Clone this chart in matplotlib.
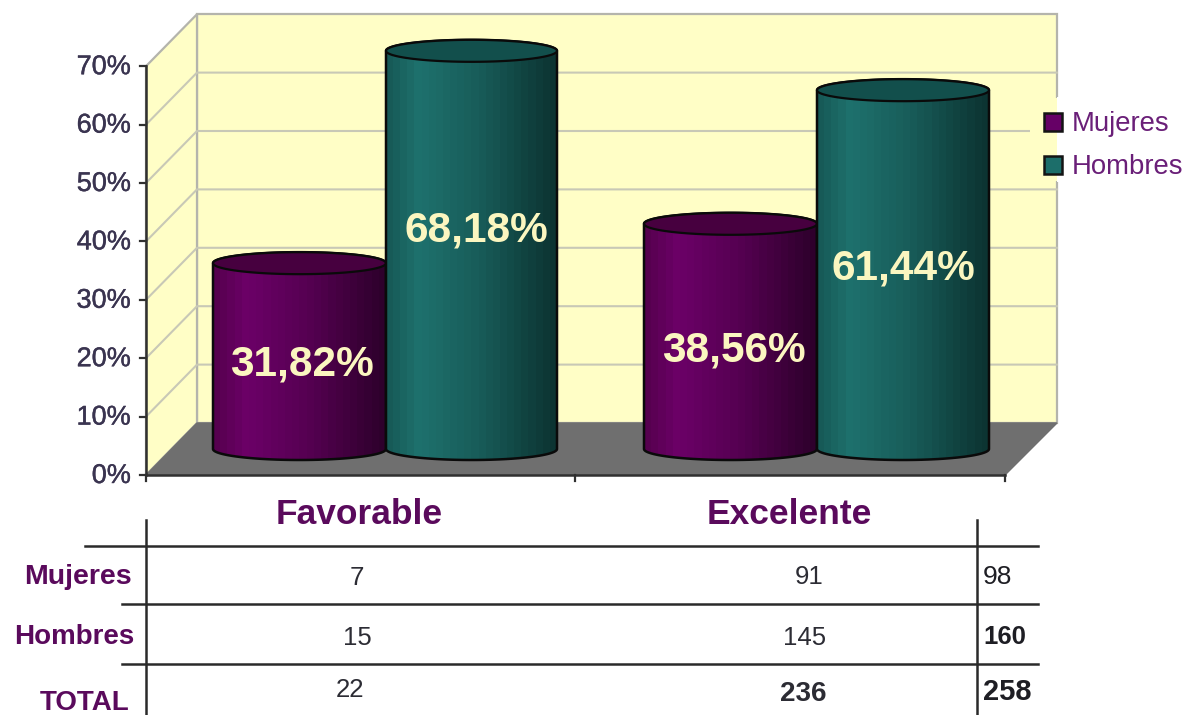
import numpy as np
import matplotlib
matplotlib.use("Agg")
import matplotlib.pyplot as plt
import matplotlib.patheffects as pe
from matplotlib.colors import LinearSegmentedColormap
from matplotlib.patches import Polygon, Rectangle

# data
categories = ["Favorable", "Excelente"]
series = ["Mujeres", "Hombres"]
mujeres_pct = [31.82, 38.56]
hombres_pct = [68.18, 61.44]
pct_labels = [["31,82%", "38,56%"], ["68,18%", "61,44%"]]
y_ticks = [0, 10, 20, 30, 40, 50, 60, 70]
table_rows = ["Mujeres", "Hombres", "TOTAL"]
favorable_counts = ["7", "15", "22"]
excelente_counts = ["91", "145", "236"]
row_totals = ["98", "160", "258"]

plt.rcParams["font.family"] = ["Liberation Sans", "DejaVu Sans"]

PURPLE = "#5a0a5c"
TEXT_DARK = "#3a3450"
CREAM = "#fffec6"
thicker = [pe.withStroke(linewidth=0.3, foreground=TEXT_DARK)]

fig = plt.figure(figsize=(11.88, 7.15), dpi=100)
ax = fig.add_axes([0, 0, 1, 1])
ax.set_xlim(0, 1188)
ax.set_ylim(715, 0)
ax.axis("off")

# value scale of the 3d box, front plane and back wall
PX_PER_PCT = 5.84
def front_y(p):
    return 475 - p * PX_PER_PCT
def back_y(p):
    return 423 - p * PX_PER_PCT
def mid_y(p):
    return 449 - p * PX_PER_PCT

# walls and floor
ax.add_patch(Polygon([(197, back_y(70)), (1057, back_y(70)), (1057, back_y(0)), (197, back_y(0))],
                     fc=CREAM, ec="#b4b4ac", lw=1.6, zorder=1))
ax.add_patch(Polygon([(146, front_y(70)), (197, back_y(70)), (197, back_y(0)), (146, front_y(0))],
                     fc=CREAM, ec="#b4b4ac", lw=1.6, zorder=1))
for p in y_ticks[1:-1]:
    ax.plot([146, 197, 1057], [front_y(p), back_y(p), back_y(p)], color="#c8c8b6", lw=1.5, zorder=2)
ax.add_patch(Polygon([(146, front_y(0)), (197, back_y(0)), (1057, back_y(0)), (1005, front_y(0))],
                     fc="#6f6f6f", ec="#6f6f6f", lw=1, zorder=3))

# axes lines and ticks
ax.plot([146, 146], [front_y(70), front_y(0)], color="#303030", lw=1.8, zorder=4)
ax.plot([146, 1005], [front_y(0), front_y(0)], color="#303030", lw=1.8, zorder=9)
for p in y_ticks:
    ax.plot([140, 146], [front_y(p), front_y(p)], color="#303030", lw=1.6, zorder=4)
    ax.text(131, front_y(p) + 1, "%d%%" % p, ha="right", va="center", fontsize=19.5,
            color=TEXT_DARK, zorder=5, path_effects=thicker)
for x in (146, 575, 1005):
    ax.plot([x, x], [front_y(0), front_y(0) + 6], color="#303030", lw=1.6, zorder=4)

# cylinders
cm_purple = LinearSegmentedColormap.from_list(
    "p", [(0, "#56004f"), (0.18, "#6c0068"), (0.55, "#560052"), (1, "#2e002c")])
cm_teal = LinearSegmentedColormap.from_list(
    "t", [(0, "#175a57"), (0.18, "#1e716d"), (0.55, "#185c59"), (1, "#0c3432")])
ramp = np.linspace(0, 1, 24).reshape(1, -1)
ELL = 11

def cylinder(x0, x1, pct, cmap, top_color, z):
    y_top = mid_y(pct)
    y_base = mid_y(0)
    xc = (x0 + x1) / 2
    w = (x1 - x0) / 2
    t = np.linspace(np.pi, 0, 80)
    # outline: up the left side, over the top back, down the right, round the base
    xs = np.concatenate([[x0], xc + w * np.cos(t), [x1], xc + w * np.cos(t[::-1])])
    ys = np.concatenate([[y_base], y_top - ELL * np.sin(t), [y_base], y_base + ELL * np.sin(t[::-1])])
    body = Polygon(np.column_stack([xs, ys]), closed=True, fc="none", ec="#0a0a0a", lw=1.8, zorder=z + 0.2)
    im = ax.imshow(ramp, cmap=cmap, extent=(x0, x1, y_base + ELL, y_top - ELL), aspect="auto",
                   interpolation="nearest", zorder=z)
    ax.add_patch(body)
    im.set_clip_path(body)
    tt = np.linspace(0, 2 * np.pi, 120)
    ax.add_patch(Polygon(np.column_stack([xc + w * np.cos(tt), y_top + ELL * np.sin(tt)]),
                         fc=top_color, ec="#0a0a0a", lw=1.6, zorder=z + 0.3))

slots = [(213, 386, 644, 817), (386, 557, 817, 989)]
cylinder(slots[0][0], slots[0][1], mujeres_pct[0], cm_purple, "#47003f", 5)
cylinder(slots[1][0], slots[1][1], hombres_pct[0], cm_teal, "#124f4c", 6)
cylinder(slots[0][2], slots[0][3], mujeres_pct[1], cm_purple, "#47003f", 5)
cylinder(slots[1][2], slots[1][3], hombres_pct[1], cm_teal, "#124f4c", 6)
ax.set_xlim(0, 1188)
ax.set_ylim(715, 0)

# percentage labels
label_x = [(302, 734), (476, 903)]
label_y = [(364, 350), (230, 268)]
for s in range(2):
    for c in range(2):
        ax.text(label_x[s][c], label_y[s][c], pct_labels[s][c], ha="center", va="center",
                fontsize=30.5, fontweight="bold", color="#fbf6c0", zorder=8)

# legend, its box hides the end of the wall and a gridline
ax.add_patch(Rectangle((1030, 98), 27, 83, fc=CREAM, ec="none", zorder=2.5))
ax.add_patch(Rectangle((1056.5, 97), 4, 85, fc="white", ec="none", zorder=2.5))
leg_y = [122, 165]
leg_colors = ["#660066", "#1c6e6a"]
for name, y, c in zip(series, leg_y, leg_colors):
    ax.add_patch(Rectangle((1044, y - 9), 18, 18, fc=c, ec="#141414", lw=1.8, zorder=9))
    ax.text(1072, y + 2, name, ha="left", va="center", fontsize=19.8, color="#6a1f78", zorder=9)

# category labels
for name, x in zip(categories, (359, 789)):
    ax.text(x, 515, name, ha="center", va="center", fontsize=25.5, fontweight="bold", color=PURPLE)

# table lines
for x in (146, 977):
    ax.plot([x, x], [520, 715], color="#2a2a2a", lw=1.8)
ax.plot([85, 1038], [546, 546], color="#2a2a2a", lw=1.8)
ax.plot([122, 1038], [604, 604], color="#2a2a2a", lw=1.8)
ax.plot([122, 1038], [664, 664], color="#2a2a2a", lw=1.8)

# table text
row_y = [577, 637, 703]
row_right = [132, 134, 130]
row_size = [20.5, 20, 20]
for name, y, xr, fs in zip(table_rows, row_y, row_right, row_size):
    ax.text(xr, y, name, ha="right", va="center", fontsize=fs, fontweight="bold", color=PURPLE)

fav_x = [357, 357, 350]
fav_y = [578, 638, 690]
exc_x = [809, 805, 803]
exc_y = [577, 638, 694]
tot_y = [577, 637, 692]
for i in range(3):
    ax.text(fav_x[i], fav_y[i], favorable_counts[i], ha="center", va="center",
            fontsize=18.5, color="#2c2c34")
    ax.text(exc_x[i], exc_y[i], excelente_counts[i], ha="center", va="center",
            fontsize=20 if i == 2 else 18.5, color="#2c2c34",
            fontweight="bold" if i == 2 else "normal")
    ax.text(983, tot_y[i], row_totals[i], ha="left", va="center",
            fontsize=19 if i == 0 else (18.5 if i == 1 else 21), color="#1e1e24",
            fontweight="normal" if i == 0 else "bold")

fig.savefig("out.png", dpi=100)
